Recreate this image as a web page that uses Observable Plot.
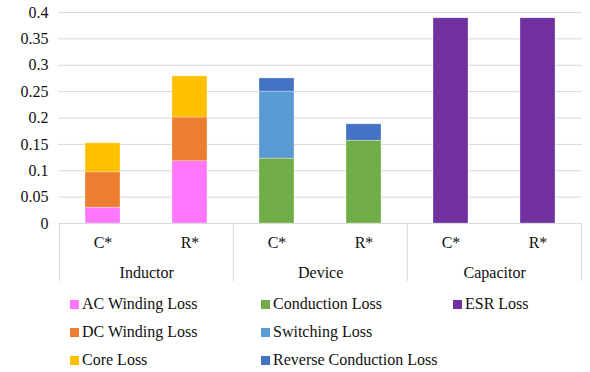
<!DOCTYPE html>
<html><head><meta charset="utf-8">
<script src="https://cdn.jsdelivr.net/npm/d3@7"></script>
<script src="https://cdn.jsdelivr.net/npm/@observablehq/plot@0.6"></script>
<style>
body{margin:0;background:#fff;font-family:'Liberation Serif','DejaVu Serif',Times,serif;}
#legend{position:relative;width:590px;height:82px;font-size:16px;color:#111;}
.li{position:absolute;display:flex;align-items:center;white-space:nowrap;}
.sw{width:9px;height:9px;margin-right:3px;}
</style></head><body>
<div id="chart"></div>
<div id="legend"></div>
<script>
const groups = ["Inductor","Inductor","Device","Device","Capacitor","Capacitor"];
const subs = ["C*","R*","C*","R*","C*","R*"];
const seriesNames = ["AC Winding Loss","DC Winding Loss","Core Loss","Conduction Loss","Switching Loss","Reverse Conduction Loss","ESR Loss"];
const seriesColors = ["#ff77ff","#ed7d31","#ffc000","#70ad47","#5b9bd5","#4472c4","#7030a0"];
const acWinding   = [0.030,0.118,0,0,0,0];
const dcWinding   = [0.067,0.083,0,0,0,0];
const coreLoss    = [0.055,0.078,0,0,0,0];
const conduction  = [0,0,0.123,0.157,0,0];
const switching   = [0,0,0.127,0,0,0];
const reverseCond = [0,0,0.025,0.031,0,0];
const esr         = [0,0,0,0,0.389,0.389];
const yTicks = [0,0.05,0.1,0.15,0.2,0.25,0.3,0.35,0.4];

const seriesValues = [acWinding,dcWinding,coreLoss,conduction,switching,reverseCond,esr];
const keys = groups.map((g,i)=>g+" "+subs[i]);
const rows = [];
seriesNames.forEach((s,si)=>seriesValues[si].forEach((v,i)=>{ if(v>0) rows.push({key:keys[i],series:s,value:v}); }));

const FONT = "'Liberation Serif','DejaVu Serif',Times,serif";
const W=590,H=290,mL=58,mR=8,mT=12,mB=67;
const pIn=0.6,pOut=0.3;
const step=(W-mL-mR)/(keys.length-pIn+2*pOut);
const firstKeys = keys.filter((k,i)=>i===0||groups[i]!==groups[i-1]);
const groupNames = firstKeys.map(k=>groups[keys.indexOf(k)]);
const yBottom = -0.11;

const chart = Plot.plot({
  width:W,height:H,marginLeft:mL,marginRight:mR,marginTop:mT,marginBottom:mB,
  style:{fontFamily:FONT,fontSize:"16px",color:"#111",background:"#fff",overflow:"visible"},
  x:{domain:keys,paddingInner:pIn,paddingOuter:pOut,axis:null},
  y:{domain:[0,0.4],ticks:yTicks,tickFormat:d=>String(+d.toFixed(2)),tickSize:0,tickPadding:10,label:null},
  color:{domain:seriesNames,range:seriesColors},
  marks:[
    Plot.gridY(yTicks,{stroke:"#d9d9d9",strokeOpacity:1}),
    Plot.barY(rows,{x:"key",y:"value",fill:"series",z:"series",order:seriesNames,stroke:"#fff",strokeWidth:0.6,strokeOpacity:0.5}),
    Plot.ruleY([0],{stroke:"#d9d9d9"}),
    Plot.ruleX(firstKeys,{x:d=>d,y1:0,y2:yBottom,dx:-step/2,stroke:"#d9d9d9"}),
    Plot.ruleX([keys[keys.length-1]],{x:d=>d,y1:0,y2:yBottom,dx:step/2,stroke:"#d9d9d9"}),
    Plot.text(keys,{x:d=>d,y:0,dy:19,text:(d,i)=>subs[i],fill:"#111",fontSize:16,fontFamily:FONT}),
    Plot.text(firstKeys,{x:d=>d,y:0,dy:49,dx:step/2,text:(d,i)=>groupNames[i],fill:"#111",fontSize:16,fontFamily:FONT})
  ]
});
chart.querySelectorAll("text").forEach(t=>t.style.fontFamily=FONT);
document.getElementById("chart").appendChild(chart);

const lg=document.getElementById("legend");
const cols=[70,261,453];
const colOf=[0,0,0,1,1,1,2], rowOf=[0,1,2,0,1,2,0];
seriesNames.forEach((s,i)=>{
  const d=document.createElement("div");d.className="li";
  d.style.left=cols[colOf[i]]+"px";d.style.top=(5+rowOf[i]*28)+"px";
  d.innerHTML=`<span class="sw" style="background:${seriesColors[i]}"></span><span>${s}</span>`;
  lg.appendChild(d);
});
</script></body></html>
